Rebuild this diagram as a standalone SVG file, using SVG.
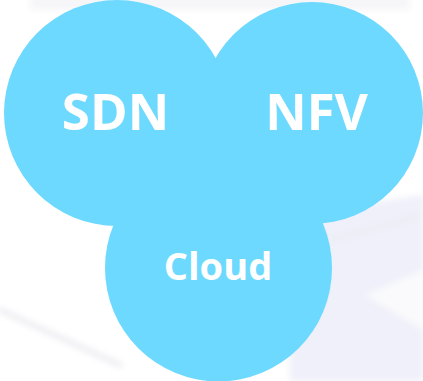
<svg xmlns="http://www.w3.org/2000/svg" width="423" height="381" viewBox="0 0 423 381">
  <defs>
    <filter id="soft" x="-10%" y="-10%" width="120%" height="120%">
      <feGaussianBlur stdDeviation="3"/>
    </filter>
  </defs>
  <style>
    .bubble { fill: #6dd9fe; }
    .label { fill: #ffffff; font-family: "Open Sans", "Noto Sans", "DejaVu Sans", sans-serif; font-weight: bold; text-anchor: middle; }
    .big { font-size: 51px; }
    .small { font-size: 38px; }
    .haze { fill: #eff0f9; }
    .streak { fill: none; stroke: #ebebf1; stroke-linecap: round; }
  </style>

  <!-- faint backdrop -->
  <rect x="0" y="0" width="423" height="381" fill="#ffffff"/>
  <g filter="url(#soft)">
    <rect x="30" y="-10" width="380" height="20" fill="#f6f6f9"/>
    <polygon class="haze" points="290,215 423,195 423,381 290,381"/>
    <polygon points="365,295 423,270 423,330" fill="#fafafc"/>
    <path class="streak" d="M0,310 L120,365" stroke-width="5"/>
    <path class="streak" d="M330,240 L423,215" stroke-width="3"/>
  </g>

  <g id="cloud">
    <circle class="bubble" cx="218.5" cy="268" r="113.5"/>
  </g>
  <g id="sdn">
    <circle class="bubble" cx="117" cy="113" r="113"/>
  </g>
  <g id="nfv">
    <circle class="bubble" cx="312" cy="113" r="111"/>
  </g>

  <g id="labels">
    <text class="label big" x="115.5" y="130">SDN</text>
    <text class="label big" x="316.5" y="130">NFV</text>
    <text class="label small" x="218" y="280">Cloud</text>
  </g>
</svg>
